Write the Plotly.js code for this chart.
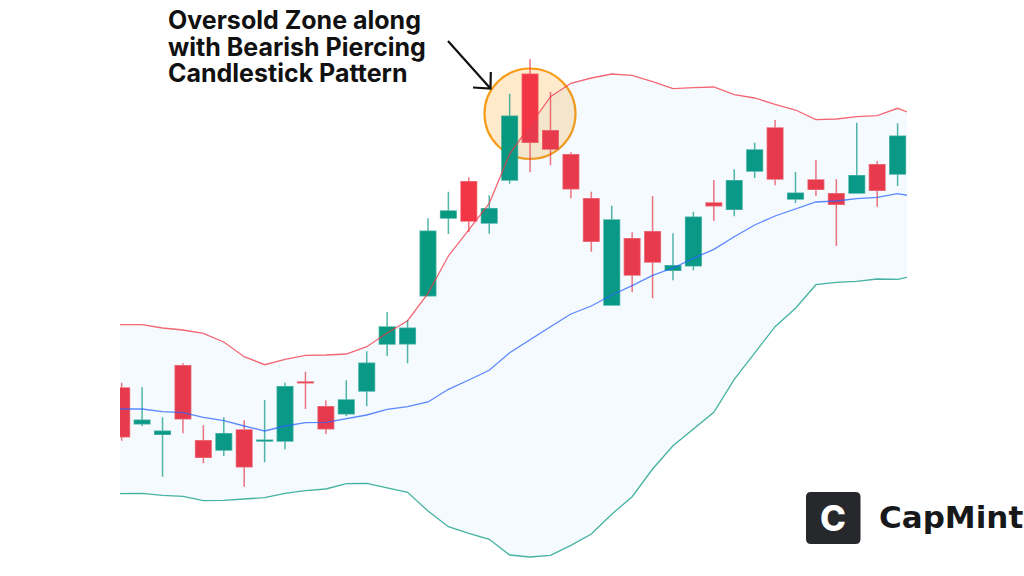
<!DOCTYPE html>
<html>
<head>
<meta charset="utf-8">
<script src="https://cdn.plot.ly/plotly-3.0.1.min.js"></script>
<style>html,body{margin:0;padding:0;background:#fff}#chart{width:1024px;height:576px}</style>
</head>
<body>
<div id="chart"></div>
<script>
// Candle values, price scale
const candleIndex = [0,1,2,3,4,5,6,7,8,9,10,11,12,13,14,15,16,17,18,19,20,21,22,23,24,25,26,27,28,29,30,31,32,33,34,35,36,37,38];
const highs = [193.3,188.7,158.7,212.7,150.7,158.7,155.7,176,193.3,204.3,175.7,195.7,224.7,264,256,357.7,384.3,398.7,380.7,482.3,517,484,423.7,384.3,370.3,343.7,380,342.7,364.3,396,406.7,433.3,456,404,416,396.7,453.3,415,452.7];
const lows = [135.3,150,99.3,142.7,112.7,120,89.3,113.7,126.7,167,142,159.7,169.7,220,212.7,280.3,342,344,342.3,392.3,403.7,410.7,377.7,324.3,271,283.7,277.7,295.7,305.7,355,359.7,398,390.7,373,380,330,383,369.3,390];
const opens = [188,152.3,141.7,210.3,135.3,126,146,135,135,194,169.3,162.3,185,232,232.3,280.3,358,394.3,353,396,501.7,445.3,421.3,377.3,271,337.3,344.2,305.7,310.3,373,366.7,405,448,377,396,382.3,383,411.3,402];
const closes = [139.3,155.7,144.7,157.3,118.7,142.3,109.3,135.7,189.3,193.3,147.3,176,212.7,249,247.7,344.7,365,355,367.3,459.7,433.7,427,387.3,334.7,356,301,314,310.3,358.7,370.3,395.3,426,397,382.7,386.7,371.7,400.3,385.7,439.7];

// Bollinger bands: one point before the first candle and one after the last
const bandIndex = [-1,0,1,2,3,4,5,6,7,8,9,10,11,12,13,14,15,16,17,18,19,20,21,22,23,24,25,26,27,28,29,30,31,32,33,34,35,36,37,38,39];
const upperBand = [251.3,251.3,251.3,248,246,242.7,234,219.3,211.3,216.7,220.7,221,222,229.3,243,255.3,282.7,320,346,372.7,422,451.3,479.3,492.7,498,502,500.7,494.3,487.3,488.3,489,481.3,478,471.7,466,456.3,457,459.3,460.3,467.7,460];
const middleBand = [167,167,167,164.3,163.3,158.7,155.3,150,145,150,153.3,153.7,157.7,161,166.7,169.3,174,186.7,196,205.7,223.3,236.7,249.3,262,270,281,290.3,300.7,308,317.7,326.7,339.3,351,360,366.7,374,375,377.3,378.7,382.3,379];
const lowerBand = [82,82,82.7,80.7,79.7,75.3,75.7,77,78.3,82.7,85.3,87,92.3,92.7,88.3,83.7,65,49.3,42.7,36.7,21,19,20.7,30.7,42,61.7,79.3,107,130.3,146.8,163.7,196.7,223.3,249.3,267.7,291.3,293.7,294.7,297,296.7,301];

// Text
const headlineLines = ['Oversold Zone along','with Bearish Piercing','Candlestick Pattern'];
const brandName = 'CapMint';
const brandInitial = 'C';

const GREEN='#089981', RED='#f23645';
const L=120, R=907, W=1024, H=576;
const px = x => (x-L)/(R-L);
const py = y => 1-y/H;

const traces = [
  {type:'scatter',mode:'lines',x:bandIndex,y:upperBand,line:{color:'rgba(242,54,69,0.75)',width:1.3},hoverinfo:'skip'},
  {type:'scatter',mode:'lines',x:bandIndex,y:lowerBand,line:{color:'rgba(8,153,129,0.75)',width:1.3},fill:'tonexty',fillcolor:'rgba(33,150,243,0.05)',hoverinfo:'skip'},
  {type:'scatter',mode:'lines',x:bandIndex,y:middleBand,line:{color:'rgba(41,98,255,0.75)',width:1.3},hoverinfo:'skip'},
  {type:'candlestick',x:candleIndex,open:opens,high:highs,low:lows,close:closes,whiskerwidth:0,
   increasing:{line:{color:'rgba(8,153,129,0.7)',width:1.5},fillcolor:GREEN},
   decreasing:{line:{color:'rgba(242,54,69,0.7)',width:1.5},fillcolor:RED}}
];

const textAnn = (text,x,y,size,color,weight,family,anchor) => ({text,x:px(x),y:py(y),xref:'paper',yref:'paper',xanchor:anchor||'left',yanchor:'middle',showarrow:false,
  font:{family:family||'Inter',size,color,weight}});

const corner = 5, bx0=806, bx1=860.5, by0=492, by1=544;

const layout = {
  width:W,height:H,margin:{l:L,r:W-R,t:0,b:0,pad:0},
  paper_bgcolor:'#fff',plot_bgcolor:'#fff',showlegend:false,boxgap:0.24,boxgroupgap:0,
  xaxis:{visible:false,range:[-0.083,38.46],rangeslider:{visible:false},fixedrange:true},
  yaxis:{visible:false,range:[0,576],fixedrange:true},
  shapes:[
    {type:'circle',layer:'below',xref:'paper',yref:'paper',x0:px(484.5),x1:px(575.5),y0:py(159),y1:py(68.5),
     fillcolor:'rgba(255,152,0,0.2)',line:{color:'#f89c17',width:2.2}},
    {type:'path',xref:'paper',yref:'paper',line:{color:'#111',width:2.2},
     path:`M ${px(448)} ${py(41)} L ${px(490)} ${py(88)} M ${px(490.8)} ${py(72)} L ${px(490.5)} ${py(88.5)} L ${px(473)} ${py(87.5)}`},
    {type:'path',xref:'paper',yref:'paper',fillcolor:'#26282c',line:{width:0},
     path:`M ${px(bx0+corner)} ${py(by0)} L ${px(bx1-corner)} ${py(by0)} Q ${px(bx1)} ${py(by0)} ${px(bx1)} ${py(by0+corner)} L ${px(bx1)} ${py(by1-corner)} Q ${px(bx1)} ${py(by1)} ${px(bx1-corner)} ${py(by1)} L ${px(bx0+corner)} ${py(by1)} Q ${px(bx0)} ${py(by1)} ${px(bx0)} ${py(by1-corner)} L ${px(bx0)} ${py(by0+corner)} Q ${px(bx0)} ${py(by0)} ${px(bx0+corner)} ${py(by0)} Z`}
  ],
  annotations:[
    textAnn(headlineLines[0],165.5,20,25,'#111','700'),
    textAnn(headlineLines[1],165.5,47,25,'#111','700'),
    textAnn(headlineLines[2],165.5,73.5,25,'#111','700'),
    textAnn(brandInitial,833,518,35,'#fff','800','Inter','center'),
    textAnn(brandName,877,517,31,'#17181a','700','DejaVu Sans')
  ]
};
Plotly.newPlot('chart',traces,layout,{displayModeBar:false,staticPlot:true});
</script>
</body>
</html>
